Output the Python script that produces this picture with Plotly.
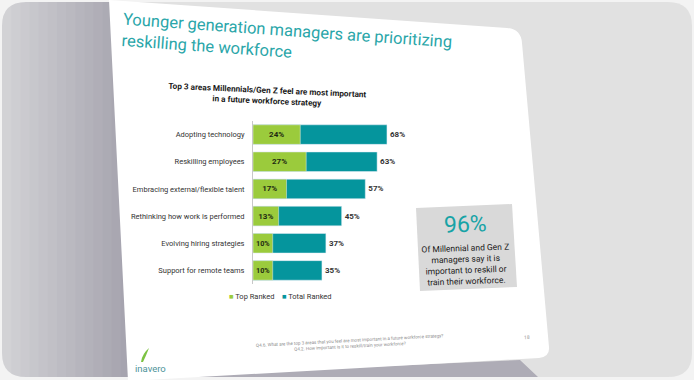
import plotly.graph_objects as go

W, H = 694, 380

categories = ["Adopting technology", "Reskilling employees", "Embracing external/flexible talent",
              "Rethinking how work is performed", "Evolving hiring strategies", "Support for remote teams"]
top_ranked = [24, 27, 17, 13, 10, 10]
total_ranked = [68, 63, 57, 45, 37, 35]
series_names = ["Top Ranked", "Total Ranked"]

GREEN = "#9BCB3C"
TEAL = "#05959D"
FONT = "Roboto"


def px(x):
    return x / W


def py(y):
    return 1 - y / H


def P(x, y):
    return f"{px(x):.5f},{py(y):.5f}"


def path(cmds):
    out = []
    for c in cmds:
        if c[0] in ("M", "L"):
            out.append(f"{c[0]} {P(c[1], c[2])}")
        elif c[0] == "Q":
            out.append(f"Q {P(c[1], c[2])} {P(c[3], c[4])}")
        elif c[0] == "Z":
            out.append("Z")
    return " ".join(out)


shapes = []


def add_path(cmds, fill):
    shapes.append(dict(type="path", xref="paper", yref="paper", layer="below",
                       path=path(cmds), fillcolor=fill, line=dict(width=0, color="rgba(0,0,0,0)")))


# outer rounded panel
r = 24
add_path([("M", 2 + r, 2), ("L", 692 - r, 2), ("Q", 692, 2, 692, 2 + r), ("L", 692, 377 - r),
          ("Q", 692, 377, 692 - r, 377), ("L", 2 + r, 377), ("Q", 2, 377, 2, 377 - r),
          ("L", 2, 2 + r), ("Q", 2, 2, 2 + r, 2), ("Z",)], "#e1e1e1")

# bottom shadow under the slide
add_path([("M", 125, 378), ("L", 520, 360), ("L", 538, 377), ("L", 125, 377), ("Z",)], "#aeacb6")

# left gradient stripes
n = 14
c0 = (210, 210, 213)
c1 = (166, 164, 175)
for i in range(n):
    t = i / (n - 1)
    col = tuple(int(c0[k] + (c1[k] - c0[k]) * t) for k in range(3))
    x0 = 2 + i * (128 / n)
    x1 = 2 + (i + 1) * (128 / n) + 0.6
    add_path([("M", x0, 2), ("L", x1, 2), ("L", x1, 377), ("L", x0, 377), ("Z",)], f"rgb{col}")

# corner masks for left rounded corners
BG = "#f3f3f3"
add_path([("M", 0, 0), ("L", 30, 0), ("L", 30, 2), ("L", 2 + r, 2), ("Q", 2, 2, 2, 2 + r),
          ("L", 2, 30), ("L", 0, 30), ("Z",)], BG)
add_path([("M", 0, 380), ("L", 30, 380), ("L", 30, 377), ("L", 2 + r, 377), ("Q", 2, 377, 2, 377 - r),
          ("L", 2, 350), ("L", 0, 350), ("Z",)], BG)
add_path([("M", 0, 377), ("L", 694, 377), ("L", 694, 380), ("L", 0, 380), ("Z",)], BG)

# white slide
add_path([("M", 109, 0), ("L", 507, 28), ("Q", 521, 29, 522, 43), ("L", 549, 347),
          ("Q", 550, 357, 539, 358), ("L", 128, 381), ("Z",)], "#ffffff")

# callout box
add_path([("M", 416, 208), ("L", 512, 204), ("L", 517, 287), ("L", 420, 291), ("Z",)], "#d9d9d9")

# logo leaf
add_path([("M", 141, 362), ("Q", 142, 354, 149, 348), ("Q", 146, 356, 143, 362), ("Z",)], "#7cc242")

fig = go.Figure()
fig.add_trace(go.Bar(
    y=categories, x=total_ranked, orientation="h", name=series_names[1], marker_color=TEAL,
    width=0.72, texttemplate="<b>%{x}%</b>", textposition="outside",
    textfont=dict(family=FONT, size=8, color="#333333"), cliponaxis=False, showlegend=False,
))
fig.add_trace(go.Bar(
    y=categories, x=top_ranked, orientation="h", name=series_names[0], marker_color=GREEN,
    width=0.72, texttemplate="<b>%{x}%</b>", textposition="inside", insidetextanchor="middle",
    textfont=dict(family=FONT, size=8, color="#1e2a12"), showlegend=False,
))

legend_text = (f"<span style='color:{GREEN}'>■</span> {series_names[0]}    "
               f"<span style='color:{TEAL}'>■</span> {series_names[1]}")

annotations = [
    dict(x=px(287), y=py(41), text="Younger generation managers are prioritizing<br>reskilling the workforce",
         align="left", textangle=4, font=dict(family=FONT, size=16.5, color="#2aa6a9")),
    dict(x=px(267), y=py(95), text="<b>Top 3 areas Millennials/Gen Z feel are most important<br>in a future workforce strategy</b>",
         align="center", textangle=2.5, font=dict(family=FONT, size=8.2, color="#1a1a1a")),
    dict(x=px(465), y=py(225), text="96%", textangle=-2,
         font=dict(family=FONT, size=23, color="#17a3a6")),
    dict(x=px(466), y=py(264), text="Of Millennial and Gen Z<br>managers say it is<br>important to reskill or<br>train their workforce.",
         align="center", textangle=-2, font=dict(family=FONT, size=8.5, color="#1a1a1a")),
    dict(x=px(280), y=py(296), text=legend_text, font=dict(family=FONT, size=7.5, color="#333333")),
    dict(x=px(350), y=py(343), text="Q4.6. What are the top 3 areas that you feel are most important in a future workforce strategy?<br>Q4.2. How important is it to reskill/train your workforce?",
         align="center", textangle=-3, font=dict(family=FONT, size=4.5, color="#8a8a8a")),
    dict(x=px(527), y=py(337), text="18", textangle=-3, font=dict(family=FONT, size=5, color="#9a9a9a")),
    dict(x=px(150), y=py(368), text="inavero", font=dict(family=FONT, size=9.5, color="#4e9399")),
]
for a in annotations:
    a.update(xref="paper", yref="paper", showarrow=False, xanchor="center", yanchor="middle")

fig.update_layout(
    width=W, height=H, margin=dict(l=0, r=0, t=0, b=0),
    paper_bgcolor=BG, plot_bgcolor="rgba(0,0,0,0)",
    barmode="overlay", bargap=0.28,
    shapes=shapes, annotations=annotations,
    showlegend=False,
    xaxis=dict(domain=[px(253), px(450)], range=[0, 100], visible=False, fixedrange=True),
    yaxis=dict(domain=[py(284), py(121)], autorange="reversed", showline=True, linecolor="#c8c8c8",
               linewidth=1, ticks="", ticklabelstandoff=6, showgrid=False,
               tickfont=dict(family=FONT, size=7.5, color="#333333")),
)

fig.write_html("out.html", config={"displayModeBar": False},
               post_script="document.body.style.margin='0px';document.body.style.overflow='hidden';")
